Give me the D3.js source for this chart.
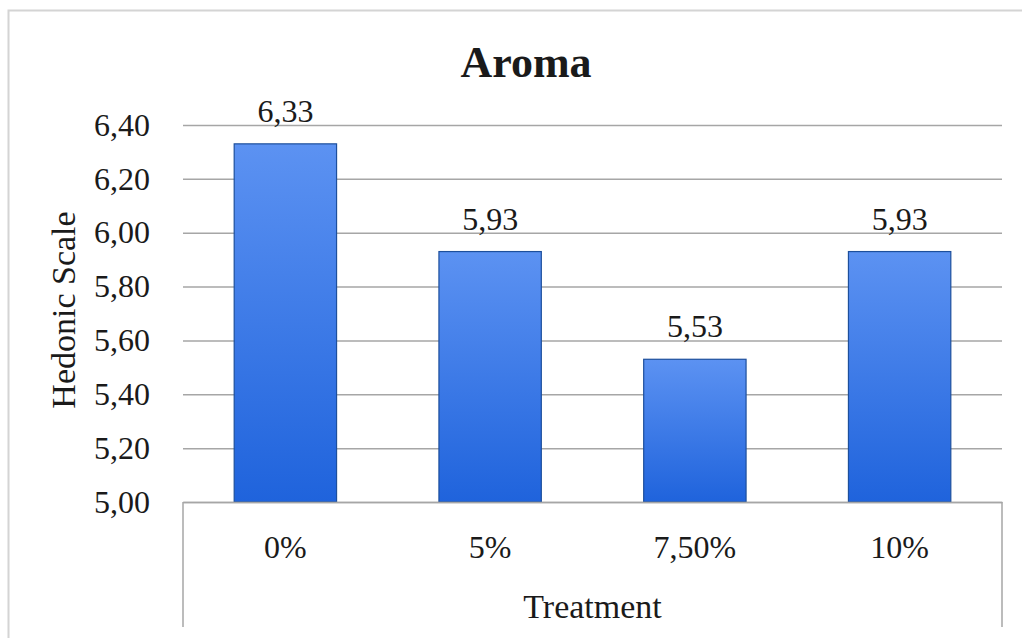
<!DOCTYPE html>
<html>
<head>
<meta charset="utf-8">
<script src="https://cdn.jsdelivr.net/npm/d3@7"></script>
<style>
  html, body { margin: 0; padding: 0; background: #fff; }
  svg { display: block; }
  text { font-family: "Liberation Serif", "Times New Roman", serif; fill: #1a1a1a; }
</style>
</head>
<body>
<svg id="chart" width="1022" height="638"></svg>
<script>
const categories = ["0%", "5%", "7,50%", "10%"];
const values = [6.33, 5.93, 5.53, 5.93];
const yTicks = [5.0, 5.2, 5.4, 5.6, 5.8, 6.0, 6.2, 6.4];
const chartTitle = "Aroma";
const xTitle = "Treatment";
const yTitle = "Hedonic Scale";

const svg = d3.select("#chart");
const W = 1022, H = 638;
const plot = { left: 183, right: 1002, top: 125, bottom: 502 };

const locale = d3.formatLocale({ decimal: ",", thousands: ".", grouping: [3], currency: ["", ""] });
const fmt = locale.format(".2f");

// outer chart border
svg.append("rect")
  .attr("x", 8.5).attr("y", 10.5)
  .attr("width", 1100).attr("height", 800)
  .attr("fill", "none")
  .attr("stroke", "#d4d4d4")
  .attr("stroke-width", 2);

const x = d3.scaleBand()
  .domain(categories)
  .range([plot.left, plot.right])
  .paddingInner(0.5)
  .paddingOuter(0.25);

const y = d3.scaleLinear()
  .domain([5.0, 6.4])
  .range([plot.bottom, plot.top]);

// gradient
const defs = svg.append("defs");
const grad = defs.append("linearGradient")
  .attr("id", "barGrad")
  .attr("x1", 0).attr("y1", 0).attr("x2", 0).attr("y2", 1);
grad.append("stop").attr("offset", "0%").attr("stop-color", "#5c92f2");
grad.append("stop").attr("offset", "100%").attr("stop-color", "#1f63dc");

// gridlines
const yAxis = d3.axisLeft(y)
  .tickValues(yTicks)
  .tickSize(-(plot.right - plot.left))
  .tickPadding(33)
  .tickFormat(d => fmt(d));

const gy = svg.append("g")
  .attr("transform", `translate(${plot.left},0)`)
  .call(yAxis);
gy.select(".domain").remove();
gy.selectAll(".tick line")
  .attr("stroke", "#a6a6a6")
  .attr("stroke-width", 1.5);
gy.selectAll(".tick text")
  .attr("font-size", 32)
  .attr("font-family", "Liberation Serif, serif")
  .attr("fill", "#1a1a1a");

// bars
svg.append("g").selectAll("rect")
  .data(values)
  .join("rect")
  .attr("x", (d, i) => x(categories[i]))
  .attr("y", d => y(d))
  .attr("width", x.bandwidth())
  .attr("height", d => y(5.0) - y(d))
  .attr("fill", "url(#barGrad)")
  .attr("stroke", "#1d4f9c")
  .attr("stroke-width", 1.2);

// value labels
svg.append("g").selectAll("text")
  .data(values)
  .join("text")
  .attr("x", (d, i) => x(categories[i]) + x.bandwidth() / 2)
  .attr("y", d => y(d) - 22)
  .attr("text-anchor", "middle")
  .attr("font-size", 32)
  .text(d => fmt(d));

// x axis
const xAxis = d3.axisBottom(x).tickSize(0).tickPadding(33);
const gx = svg.append("g")
  .attr("transform", `translate(0,${plot.bottom})`)
  .call(xAxis);
gx.select(".domain").attr("stroke", "#a6a6a6").attr("stroke-width", 1.5);
gx.selectAll(".tick text")
  .attr("font-size", 32)
  .attr("font-family", "Liberation Serif, serif")
  .attr("fill", "#1a1a1a");

// end lines below the category axis
svg.append("g").selectAll("line")
  .data(x.range())
  .join("line")
  .attr("x1", d => d).attr("x2", d => d)
  .attr("y1", plot.bottom).attr("y2", 627)
  .attr("stroke", "#a6a6a6")
  .attr("stroke-width", 1.5);

// titles
svg.append("text")
  .attr("x", 526).attr("y", 77)
  .attr("text-anchor", "middle")
  .attr("font-size", 44)
  .attr("font-weight", "bold")
  .text(chartTitle);

svg.append("text")
  .attr("x", (plot.left + plot.right) / 2).attr("y", 618)
  .attr("text-anchor", "middle")
  .attr("font-size", 34)
  .text(xTitle);

svg.append("text")
  .attr("transform", `translate(75,310) rotate(-90)`)
  .attr("text-anchor", "middle")
  .attr("font-size", 34)
  .text(yTitle);
</script>
</body>
</html>
